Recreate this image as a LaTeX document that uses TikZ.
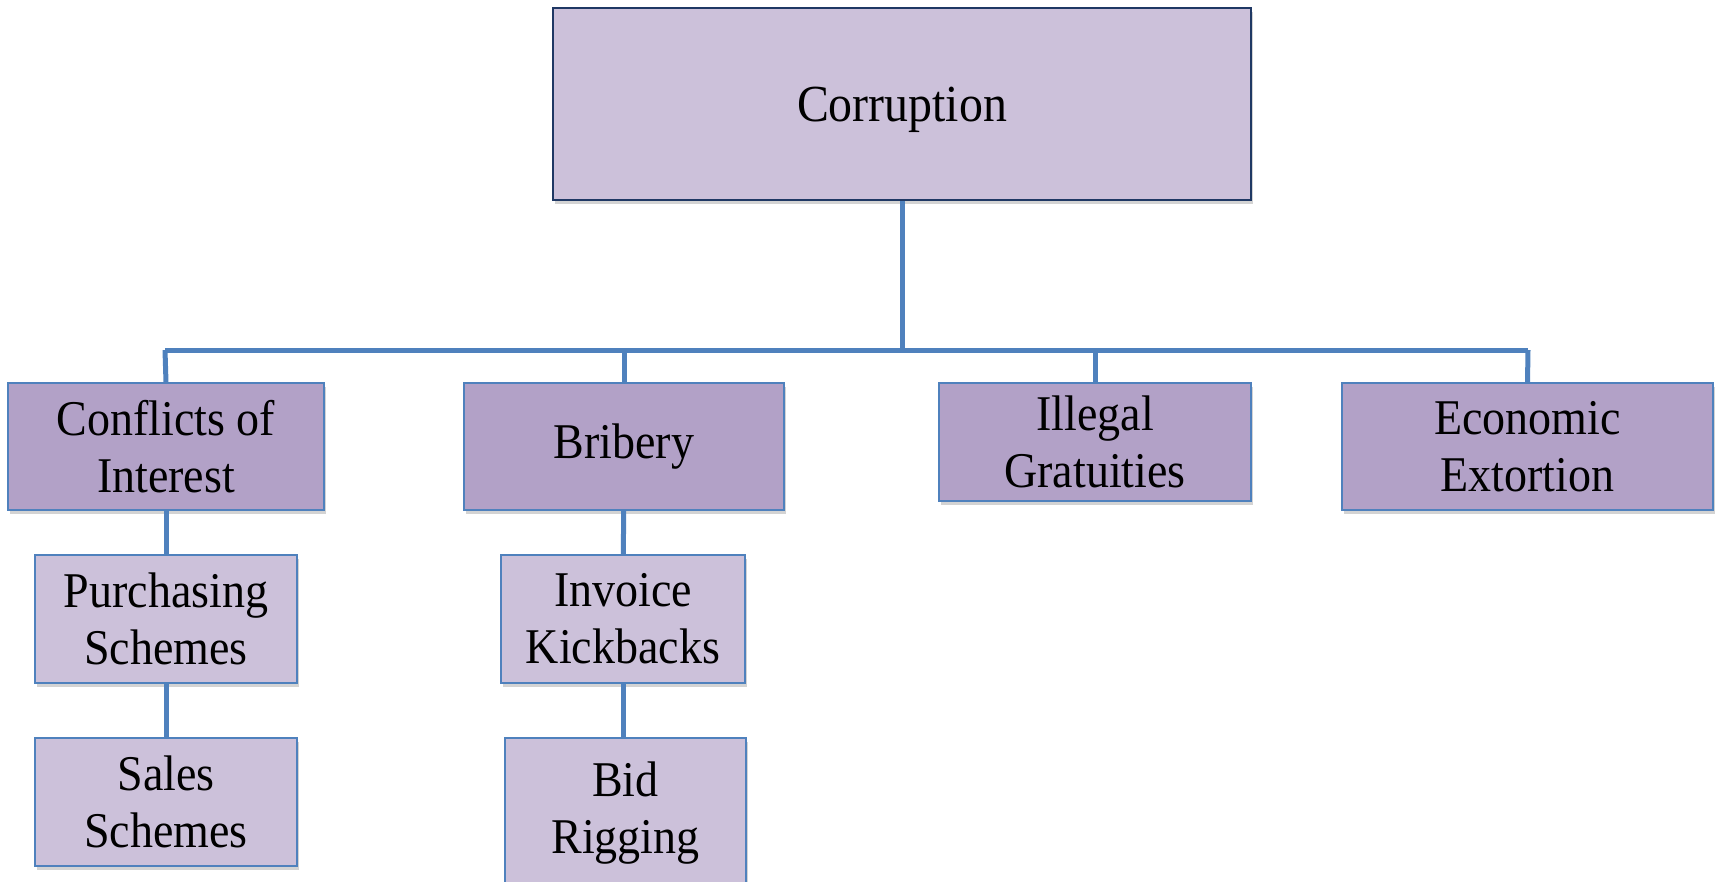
\documentclass[tikz,border=0pt]{standalone}
\usepackage{fontspec}
\setmainfont[FakeStretch=0.92]{Liberation Serif}
\usetikzlibrary{positioning,shadows}
\definecolor{lineBlue}{RGB}{79,129,189}
\definecolor{darkNavy}{RGB}{31,56,100}
\definecolor{paleLilac}{RGB}{204,193,218}
\definecolor{midLilac}{RGB}{178,161,199}
\tikzset{
  link/.style={draw=lineBlue, line width=5pt},
  topbox/.style={draw=darkNavy, fill=paleLilac, line width=1.6pt, align=center,
                 minimum width=698pt, minimum height=192pt, font=\fontsize{52}{57}\selectfont,
                 drop shadow={opacity=.35, shadow xshift=1.5pt, shadow yshift=-4pt}},
  kind/.style={draw=lineBlue, fill=midLilac, line width=1.3pt, align=center,
               minimum height=127pt, inner sep=0pt, font=\fontsize{50}{57}\selectfont,
               drop shadow={opacity=.35, shadow xshift=1.5pt, shadow yshift=-4pt}},
  scheme/.style={draw=lineBlue, fill=paleLilac, line width=1.3pt, align=center,
                 minimum height=128pt, inner sep=0pt, font=\fontsize{50}{57}\selectfont,
                 drop shadow={opacity=.35, shadow xshift=1.5pt, shadow yshift=-4pt}}
}
\begin{document}
\begin{tikzpicture}[x=1pt, y=-1pt]
  \useasboundingbox (0,0) rectangle (1716,881);
  % bus line under the top box
  \coordinate (bus) at (902,350);
  \coordinate (busL) at (165,350);
  \coordinate (busR) at (1528,350);
  \node[topbox] (corr) at (902,104) {\raisebox{-6pt}[\height][\depth]{Corruption}};
  \node[kind, minimum width=316pt] (coi) at (166,446.5) {Conflicts of\\Interest};
  \node[kind, minimum width=320pt] (brib) at (624,446.5) {Bribery};
  \node[kind, minimum width=312pt, minimum height=118pt] (grat) at (1095,442) {Illegal\\Gratuities};
  \node[kind, minimum width=371pt] (ext) at (1527.5,446.5) {Economic\\Extortion};
  \node[scheme, minimum width=262pt] (purch) at (166,619) {Purchasing\\Schemes};
  \node[scheme, minimum width=262pt] (sales) at (166,802) {Sales\\Schemes};
  \node[scheme, minimum width=244pt] (inv) at (623,619) {Invoice\\Kickbacks};
  \node[scheme, minimum width=241pt, minimum height=150pt] (bid) at (625.5,813) {Bid\\Rigging};
  \draw[link] (corr.south) -- (bus);
  \draw[link] (busL) -- (busR);
  \draw[link] (busL) -- (coi.north);
  \draw[link] (brib.north |- bus) -- (brib.north);
  \draw[link] (grat.north |- bus) -- (grat.north);
  \draw[link] (busR) -- (ext.north);
  \draw[link] (coi) -- (purch);
  \draw[link] (purch) -- (sales);
  \draw[link] (brib) -- (inv);
  \draw[link] (inv) -- (inv |- bid.north);
\end{tikzpicture}
\end{document}
